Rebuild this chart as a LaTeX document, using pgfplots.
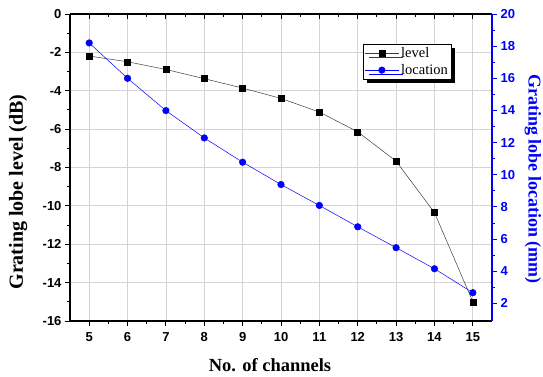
\documentclass[border=0pt]{standalone}
\usepackage{fontspec}
\setmainfont{Liberation Serif}
\setsansfont{Liberation Sans}
\usepackage{pgfplots}
\usepackage{pgfplotstable}
\pgfplotsset{compat=1.18}
\usetikzlibrary{shadows}

\definecolor{gridgray}{RGB}{212,212,212}
\definecolor{locblue}{RGB}{0,0,255}
\definecolor{lvlline}{RGB}{60,60,60}

% grating lobe level (dB) and location (mm) versus number of channels
\pgfplotstableread{
ch  level   location
5   -2.19   18.20
6   -2.49   16.00
7   -2.89   13.99
8   -3.37   12.29
9   -3.86   10.78
10  -4.40    9.39
11  -5.11    8.09
12  -6.14    6.76
13  -7.67    5.46
14  -10.35   4.15
15  -15.00   2.66
}\gratingdata

\begin{document}
\begin{tikzpicture}
\useasboundingbox (-70pt,-55pt) rectangle (473pt,321pt);
\pgfplotsset{
  common/.style={
    scale only axis, width=422pt, height=307pt,
    at={(0pt,0pt)}, anchor=south west,
    xmin=4.5, xmax=15.5, xtick={5,...,15}, minor x tick num=1,
    tick label style={font=\sffamily\bfseries\fontsize{13}{15}\selectfont},
    /pgf/number format/assume math mode=true,
    major tick length=5pt, minor tick length=3pt,
    axis line style={line width=1.1pt},
    every tick/.append style={line width=0.9pt},
  }
}
\begin{axis}[common,
  axis x line*=bottom, axis y line*=left,
  tick align=outside,
  ymin=-16, ymax=0, ytick={-16,-14,...,0}, minor y tick num=1,
  every tick/.append style={black},
  xticklabel style={yshift=-3pt},
  grid=major, major grid style={gridgray, line width=0.8pt},
  xlabel={No. of channels},
  ylabel={Grating lobe level (dB)},
  xlabel style={font=\bfseries\fontsize{18.5}{21}\selectfont,
    at={(axis description cs:0.474,-0.145)}, anchor=center},
  ylabel style={font=\bfseries\fontsize{20}{22}\selectfont,
    at={(axis description cs:-0.123,0.42)}, anchor=center},
]
\addplot[lvlline, line width=0.5pt, mark=square*, mark size=3pt,
  mark options={solid, fill=black, draw=black}]
  table[x=ch, y=level]{\gratingdata};
\end{axis}
\begin{axis}[common,
  axis x line*=top, axis y line*=right,
  xticklabels={}, xtick align=inside, ytick align=outside,
  ymin=0.9, ymax=20, ytick={2,4,...,20}, minor y tick num=1,
  y axis line style={locblue},
  every y tick/.append style={locblue},
  every x tick/.append style={black},
  yticklabel style={text=locblue},
  ylabel={Grating lobe location (mm)},
  ylabel style={font=\bfseries\fontsize{18}{21}\selectfont, text=locblue,
    at={(axis description cs:1.097,0.4625)}, anchor=center, rotate=180},
  legend style={at={(rel axis cs:0.694,0.902)}, anchor=north west,
    draw=black, fill=white, inner sep=1.5pt, row sep=1pt,
    font=\fontsize{14.5}{16}\selectfont,
    cells={anchor=west},
    /tikz/every odd column/.append style={column sep=0pt},
    drop shadow={shadow xshift=4pt, shadow yshift=-4pt, fill=black, opacity=1}},
  legend image code/.code={
    \draw[#1, mark=none] (0cm,0cm) -- (1.2cm,0cm);
    \draw[#1] plot coordinates {(0.6cm,0cm)};},
]
\addlegendimage{lvlline, line width=0.5pt, mark=square*, mark size=3pt,
  mark options={solid, fill=black, draw=black}}
\addlegendentry{level}
\addplot[locblue, line width=0.5pt, mark=*, mark size=3.3pt,
  mark options={solid, fill=locblue, draw=locblue}]
  table[x=ch, y=location]{\gratingdata};
\addlegendentry{location}
\end{axis}
\end{tikzpicture}
\end{document}
